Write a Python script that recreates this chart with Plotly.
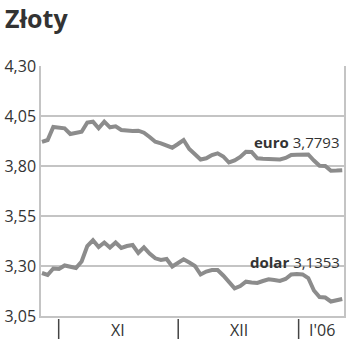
import plotly.graph_objects as go

title = "Złoty"

# trading-day index (late Oct 2005 - mid Jan 2006)
euro = [3.921, 3.930, 3.995, 3.990, 3.9885, 3.960, 3.965, 3.9715, 4.0175, 4.0215,
        3.9885, 4.0215, 3.9935, 3.9985, 3.980, 3.976, 3.975, 3.9765, 3.9665, 3.945,
        3.9215, 3.9135, 3.905, 3.8915, 3.910, 3.930, 3.885, 3.860, 3.8325, 3.8385,
        3.855, 3.8635, 3.8475, 3.8175, 3.8275, 3.845, 3.8715, 3.870, 3.8385, 3.836,
        3.834, 3.835, 3.8325, 3.840, 3.855, 3.8565, 3.8575, 3.8575, 3.8275, 3.8015,
        3.800, 3.7765, 3.7775, 3.7793]
dolar = [3.265, 3.255, 3.2875, 3.285, 3.3025, 3.2975, 3.290, 3.3225, 3.400, 3.4285,
         3.395, 3.4175, 3.3925, 3.4175, 3.390, 3.400, 3.405, 3.365, 3.3935, 3.3625,
         3.3385, 3.330, 3.335, 3.2975, 3.3175, 3.3335, 3.3175, 3.300, 3.2575, 3.2725,
         3.280, 3.280, 3.2525, 3.220, 3.1885, 3.200, 3.2215, 3.2175, 3.215, 3.225,
         3.2335, 3.230, 3.225, 3.235, 3.2575, 3.260, 3.258, 3.240, 3.1775, 3.145,
         3.1425, 3.1225, 3.1265, 3.1353]
x_idx = list(range(len(euro)))

y_ticks = [3.05, 3.30, 3.55, 3.80, 4.05, 4.30]
month_bounds = [2.95, 24.05, 45.3]
month_labels = ["XI", "XII", "I'06"]
month_label_pos = [13.5, 34.8, 49.5]
series_labels = ["<b>euro</b> 3,7793", "<b>dolar</b> 3,1353"]
series_label_y = [3.92, 3.3225]

LINE = "#8c8c8c"
GRID = "#c4c4c4"
TXT = "#333333"
FONT = "Open Sans"

fig = go.Figure()
for ys in (euro, dolar):
    fig.add_trace(go.Scatter(x=x_idx, y=ys, mode="lines",
                             line=dict(color=LINE, width=4), hoverinfo="skip",
                             showlegend=False))

fig.update_layout(
    width=350, height=351,
    margin=dict(l=39, r=4, t=66, b=35),
    paper_bgcolor="white", plot_bgcolor="white",
    separators=",.",
    font=dict(family=FONT, color=TXT),
    xaxis=dict(range=[-0.17, 53.31], showgrid=False, zeroline=False,
               showticklabels=False, showline=True, linecolor=GRID, linewidth=1.5,
               fixedrange=True),
    yaxis=dict(range=[3.05, 4.30], tickvals=y_ticks, tickformat=".2f",
               showgrid=True, gridcolor=GRID, gridwidth=1.5, zeroline=False,
               showline=True, linecolor=GRID, linewidth=1.5, mirror=True,
               tickfont=dict(size=16, color=TXT, family=FONT), ticks="",
               fixedrange=True),
)

fig.add_annotation(text="<b>" + title + "</b>", xref="paper", yref="paper",
                   x=-39 / 307, y=1 + 48 / 250, xanchor="left", yanchor="middle",
                   showarrow=False, font=dict(size=25, color=TXT, family=FONT))

for xb in month_bounds:
    fig.add_shape(type="line", xref="x", yref="paper", x0=xb, x1=xb,
                  y0=-0.012, y1=-0.092, line=dict(color="#444444", width=1.5))
for lab, xp in zip(month_labels, month_label_pos):
    fig.add_annotation(text=lab, x=xp, xref="x", yref="paper", y=-0.056,
                       xanchor="center", yanchor="middle", showarrow=False,
                       font=dict(size=16, color=TXT, family=FONT))
for lab, yv in zip(series_labels, series_label_y):
    fig.add_annotation(text=lab, x=53.0, y=yv, xref="x", yref="y",
                       xanchor="right", yanchor="middle", showarrow=False,
                       font=dict(size=15, color=TXT, family=FONT))

fig.write_html("out.html")
